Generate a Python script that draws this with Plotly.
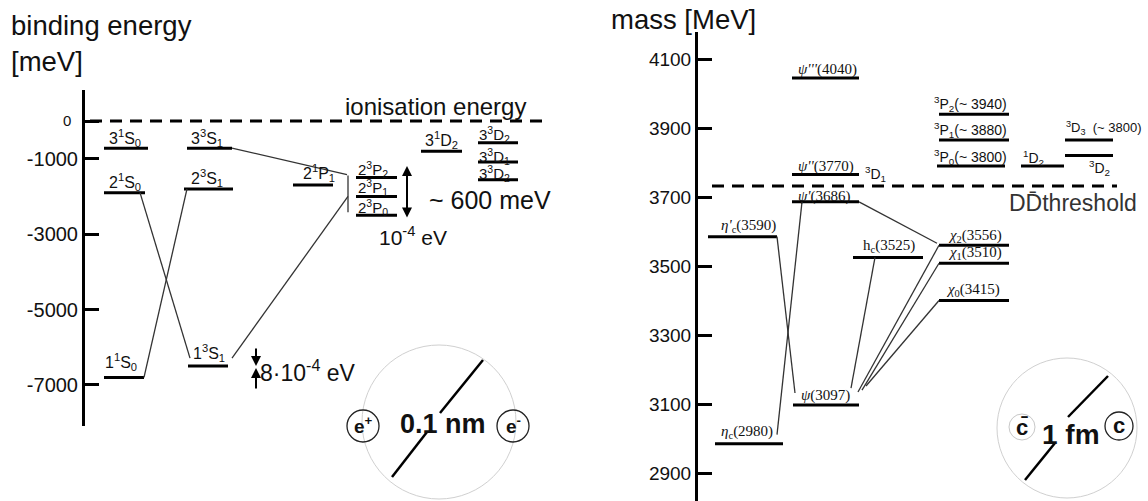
import plotly.graph_objects as go

W, H = 1148, 501
SANS = "Liberation Sans, Arial, sans-serif"
SERIF = "Liberation Serif, Times New Roman, serif"

# ---------------- DATA ----------------
# Positronium (left panel): binding energy [meV]
pos_names = ["3S0_1", "3S1_3", "2S0_1", "2S1_3", "2P1_1", "2P2_3", "2P1_3", "2P0_3",
             "3D2_1", "3D2_3a", "3D1_3", "3D2_3b", "1S0_1", "1S1_3"]
pos_labels = ["3<sup>1</sup>S<sub>0</sub>", "3<sup>3</sup>S<sub>1</sub>", "2<sup>1</sup>S<sub>0</sub>",
              "2<sup>3</sup>S<sub>1</sub>", "2<sup>1</sup>P<sub>1</sub>", "2<sup>3</sup>P<sub>2</sub>",
              "2<sup>3</sup>P<sub>1</sub>", "2<sup>3</sup>P<sub>0</sub>", "3<sup>1</sup>D<sub>2</sub>",
              "3<sup>3</sup>D<sub>2</sub>", "3<sup>3</sup>D<sub>1</sub>", "3<sup>3</sup>D<sub>2</sub>",
              "1<sup>1</sup>S<sub>0</sub>", "1<sup>3</sup>S<sub>1</sub>"]
pos_energy_meV = [-720, -720, -1900, -1800, -1700, -1500, -2000, -2500,
                  -800, -580, -1090, -1560, -6800, -6500]
pos_transitions = [("3S1_3", "2P2_3"), ("1S1_3", "2P1_3"), ("2S1_3", "1S0_1"), ("2S0_1", "1S1_3")]
pos_ticks = [0, -1000, -3000, -5000, -7000]
pos_ionisation = 0

# Charmonium (right panel): mass [MeV]
cc_names = ["etac", "psi", "etac2", "psi2", "psi3", "psi4", "hc", "chi2", "chi1", "chi0",
            "P2", "P1", "P0", "D2_1", "D3_3", "D2_3"]
cc_labels = ["<i>η</i><sub>c</sub>(2980)", "<i>ψ</i>(3097)", "<i>η'</i><sub>c</sub>(3590)",
             "<i>ψ'</i>(3686)", "<i>ψ''</i>(3770)", "<i>ψ'''</i>(4040)", "h<sub>c</sub>(3525)",
             "<i>χ</i><sub>2</sub>(3556)", "<i>χ</i><sub>1</sub>(3510)", "<i>χ</i><sub>0</sub>(3415)",
             "<sup>3</sup>P<sub>2</sub>(~ 3940)", "<sup>3</sup>P<sub>1</sub>(~ 3880)",
             "<sup>3</sup>P<sub>0</sub>(~ 3800)", "<sup>1</sup>D<sub>2</sub>",
             "<sup>3</sup>D<sub>3</sub>  (~ 3800)", "<sup>3</sup>D<sub>2</sub>"]
cc_mass_MeV = [2985, 3097, 3585, 3686, 3765, 4045, 3525, 3560, 3508, 3400,
               3940, 3865, 3790, 3790, 3865, 3820]
cc_transitions = [("etac2", "psi"), ("psi2", "etac"), ("psi2", "chi2"), ("hc", "psi"),
                  ("chi2", "psi"), ("chi1", "psi"), ("chi0", "psi")]
cc_ticks = [2900, 3100, 3300, 3500, 3700, 3900, 4100]
cc_threshold = 3732

# ---------------- LAYOUT / PLACEMENT (pixels) ----------------
def px(x): return x / W
def py(y): return 1 - y / H

L_Y0, L_S = 121, 0.03771      # pixel of 0 meV, px per meV
R_Y0, R_S = 59, 0.345         # pixel of 4100 MeV, px per MeV
def Lv(p): return -(p - L_Y0) / L_S
def Rv(p): return 4100 - (p - R_Y0) / R_S

# x0, x1, label dx, label dy(px, up), font size, family
pos_place = [
    (104, 148, 3, 10, 16, SANS), (187, 232, 2, 10, 16, SANS), (104, 145, 3, 11, 16, SANS),
    (184, 233, 5, 11, 16, SANS), (293, 333, 8, 12, 16, SANS), (356, 397, 0, 8, 15, SANS),
    (356, 397, 0, 9, 15, SANS), (356, 397, 0, 8, 15, SANS), (421, 462, 2, 11, 16, SANS),
    (478, 518, -1, 8, 15, SANS), (478, 518, -1, 6, 15, SANS), (478, 518, -1, 6, 15, SANS),
    (104, 144, -1, 15, 16, SANS), (188, 228, 3, 13, 16, SANS),
]
# from x, to x, from dy, to dy (px up)
pos_tr_place = [(232, 347, 0, 3), (232, 348, 8, 0), (187, 144, 0, 0), (140, 190, 0, 8)]

cc_place = [
    (715, 783, 4, 12, 15, SERIF), (793, 859, 6, 10, 15, SERIF), (708, 777, 11, 11, 15, SERIF),
    (792, 859, 4, 5, 15, SERIF), (792, 859, 4, 8, 15, SERIF), (792, 859, 4, 8, 15, SERIF),
    (853, 923, 8, 11, 15, SERIF), (939, 1009, 7, 9, 15, SERIF), (939, 1009, 7, 10, 15, SERIF),
    (939, 1009, 5, 11, 15, SERIF), (939, 1009, -7, 10, 14, SANS), (939, 1009, -7, 10, 14, SANS),
    (937, 1005, -5, 9, 14, SANS), (1021, 1064, 0, 8, 14, SANS), (1065, 1113, -1, 12, 13, SANS),
    (1065, 1113, 22, -12, 14, SANS),
]
cc_tr_place = [(777, 795, 0, 12), (802, 777, 0, 9), (859, 937, 0, 2), (875, 851, 0, 17),
               (939, 858, 0, 13), (939, 862, 0, 15), (939, 866, 0, 19)]

fig = go.Figure()

# ---- left levels
lx, ly = [], []
E = dict(zip(pos_names, pos_energy_meV))
for (x0, x1, *_), e in zip(pos_place, pos_energy_meV):
    lx += [x0, x1, None]; ly += [e, e, None]
fig.add_trace(go.Scatter(x=lx, y=ly, mode="lines", line=dict(color="black", width=3),
                         xaxis="x", yaxis="y", hoverinfo="skip", showlegend=False))
fig.add_trace(go.Scatter(x=[90, 543], y=[pos_ionisation] * 2, mode="lines",
                         line=dict(color="black", width=3, dash="12px,8px"),
                         xaxis="x", yaxis="y", hoverinfo="skip", showlegend=False))
tx, ty = [], []
for (a, b), (xa, xb, da, db) in zip(pos_transitions, pos_tr_place):
    tx += [xa, xb, None]; ty += [E[a] + da / L_S, E[b] + db / L_S, None]
tx += [348, 348, None]; ty += [E["2P2_3"] + 2 / L_S, E["2P0_3"] + 3 / L_S, None]
fig.add_trace(go.Scatter(x=tx, y=ty, mode="lines", line=dict(color="#333", width=1.3),
                         xaxis="x", yaxis="y", hoverinfo="skip", showlegend=False))

# ---- right levels
rx, ry = [], []
M = dict(zip(cc_names, cc_mass_MeV))
for (x0, x1, *_), m in zip(cc_place, cc_mass_MeV):
    rx += [x0, x1, None]; ry += [m, m, None]
fig.add_trace(go.Scatter(x=rx, y=ry, mode="lines", line=dict(color="black", width=3),
                         xaxis="x2", yaxis="y2", hoverinfo="skip", showlegend=False))
fig.add_trace(go.Scatter(x=[712, 1117], y=[cc_threshold] * 2, mode="lines",
                         line=dict(color="black", width=3, dash="12px,8px"),
                         xaxis="x2", yaxis="y2", hoverinfo="skip", showlegend=False))
tx, ty = [], []
for (a, b), (xa, xb, da, db) in zip(cc_transitions, cc_tr_place):
    tx += [xa, xb, None]; ty += [M[a] + da / R_S, M[b] + db / R_S, None]
fig.add_trace(go.Scatter(x=tx, y=ty, mode="lines", line=dict(color="#333", width=1.3),
                         xaxis="x2", yaxis="y2", hoverinfo="skip", showlegend=False))

ann = []
for lab, e, (x0, x1, dx, dy, fs, fam) in zip(pos_labels, pos_energy_meV, pos_place):
    ann.append(dict(x=x0 + dx, y=e, xref="x", yref="y", text=lab, showarrow=False,
                    xanchor="left", yanchor="middle", yshift=dy,
                    font=dict(family=fam, size=fs, color="#111")))
for lab, m, (x0, x1, dx, dy, fs, fam) in zip(cc_labels, cc_mass_MeV, cc_place):
    ann.append(dict(x=x0 + dx, y=m, xref="x2", yref="y2", text=lab, showarrow=False,
                    xanchor="left", yanchor="middle", yshift=dy,
                    font=dict(family=fam, size=fs, color="#111")))
ann.append(dict(x=863, y=M["psi3"], xref="x2", yref="y2", text="<sup>3</sup>D<sub>1</sub>",
                showarrow=False, xanchor="left", yanchor="middle", yshift=1,
                font=dict(family=SANS, size=14, color="#111")))
# small "0" tick label of the left axis
ann.append(dict(x=px(73), y=pos_ticks[0], xref="paper", yref="y", text="0", showarrow=False,
                xanchor="right", yanchor="middle",
                font=dict(family=SANS, size=15, color="#111")))

def txt(x, y, t, size, bold=False, color="#111", anchor="center", fam=SANS):
    ann.append(dict(x=px(x), y=py(y), xref="paper", yref="paper", text=("<b>%s</b>" % t) if bold else t,
                    showarrow=False, xanchor=anchor, yanchor="middle", align=anchor,
                    font=dict(family=fam, size=size, color=color)))

txt(9, 43, "binding energy<br>[meV]", 27.5, anchor="left")
txt(609, 20, "mass [MeV]", 27.5, anchor="left")
txt(435, 107, "ionisation energy", 24)
txt(490, 200, "~ 600 meV", 25)
txt(413, 236, "10<sup>-4</sup> eV", 21)
txt(258, 371, "8·10<sup>-4</sup> eV", 23, anchor="left")
txt(1073, 203, "DD\u0304threshold", 23, color="#333")
txt(443, 424, "0.1 nm", 27, bold=True)
txt(363, 425, "e<sup>+</sup>", 19, bold=True)
txt(513, 425, "e<sup>-</sup>", 19, bold=True)
txt(1071, 434, "1 fm", 28, bold=True)
txt(1022, 427, "c\u0304", 22, bold=True)
txt(1119, 425, "c", 22, bold=True)

def arrow(x, y, ax, ay, side="end"):
    ann.append(dict(x=px(x), y=py(y), xref="paper", yref="paper", ax=ax, ay=ay, text="",
                    showarrow=True, arrowhead=2, arrowsize=1, arrowwidth=2, arrowcolor="black",
                    arrowside=side))

arrow(407, 166, 0, 53, "end+start")
arrow(256, 366, 0, -19)
arrow(256, 368, 0, 22)

shapes = []
def circle(cx, cy, r, color, w):
    shapes.append(dict(type="circle", xref="paper", yref="paper", x0=px(cx - r), x1=px(cx + r),
                       y0=py(cy + r), y1=py(cy - r), line=dict(color=color, width=w)))
def seg(x0, y0, x1, y1, w=2.5, color="black"):
    shapes.append(dict(type="line", xref="paper", yref="paper", x0=px(x0), y0=py(y0),
                       x1=px(x1), y1=py(y1), line=dict(color=color, width=w)))

circle(439, 422, 77, "#d0d0d0", 1)
circle(363, 426, 16, "#222", 1.3)
circle(513, 426, 16, "#222", 1.3)
seg(392, 477, 427, 432)
seg(440, 413, 483, 360)
circle(1067, 428, 70, "#d0d0d0", 1)
circle(1022, 427, 13, "#c8c8c8", 1)
circle(1119, 426, 14, "#222", 1.3)
seg(1025, 480, 1055, 443)
seg(1068, 417, 1108, 376)

fig.update_layout(
    width=W, height=H, margin=dict(l=0, r=0, t=0, b=0), autosize=False,
    paper_bgcolor="white", plot_bgcolor="white", showlegend=False,
    xaxis=dict(domain=[px(85), px(560)], range=[85, 560], visible=False, anchor="y"),
    yaxis=dict(domain=[py(426), py(90)], range=[Lv(426), Lv(90)], anchor="x",
               tickvals=pos_ticks, ticktext=[""] + [str(v) for v in pos_ticks[1:]],
               ticks="inside", ticklen=14, tickwidth=2.5, tickcolor="black",
               showline=True, linewidth=3, linecolor="black", showgrid=False, zeroline=False,
               tickfont=dict(family=SANS, size=20, color="#111")),
    xaxis2=dict(domain=[px(698), 1.0], range=[698, 1148], visible=False, anchor="y2"),
    yaxis2=dict(domain=[0, py(32)], range=[Rv(501), Rv(32)], anchor="x2",
                tickvals=cc_ticks, ticktext=[str(v) for v in cc_ticks],
                ticks="inside", ticklen=14, tickwidth=2.5, tickcolor="black",
                showline=True, linewidth=3, linecolor="black", showgrid=False, zeroline=False,
                tickfont=dict(family=SANS, size=19, color="#111")),
    annotations=ann, shapes=shapes,
)

fig.write_html("out.html")
